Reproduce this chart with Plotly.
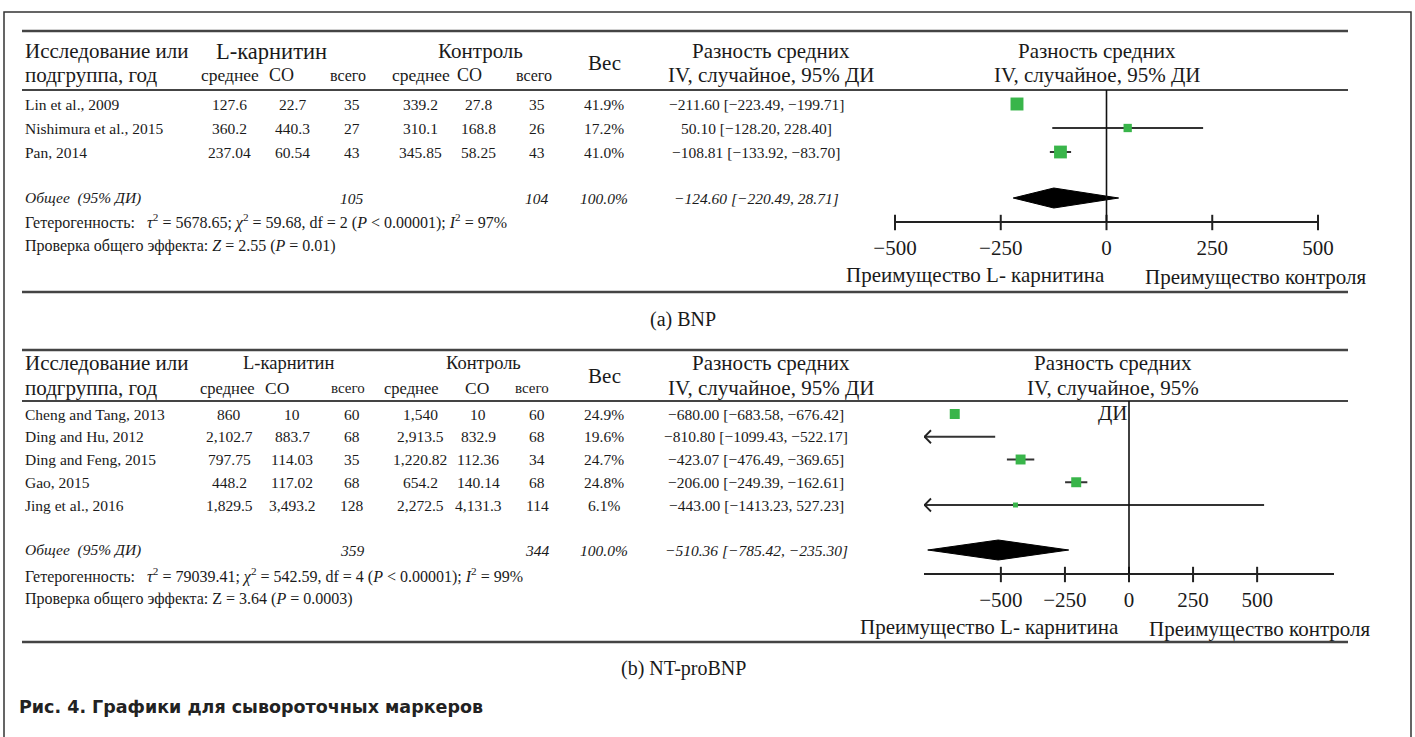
import math
import plotly.graph_objects as go

W, H = 1415, 737
SERIF = "Liberation Serif"
SANS = "DejaVu Sans"
INK = "#1a1a1a"
RULE = "#444444"
GREEN = "#39b54a"

# ---------------- (a) BNP ----------------
bnp_study = ["Lin et al., 2009", "Nishimura et al., 2015", "Pan, 2014"]
bnp_l_mean = [127.6, 360.2, 237.04]
bnp_l_sd = [22.7, 440.3, 60.54]
bnp_l_n = [35, 27, 43]
bnp_c_mean = [339.2, 310.1, 345.85]
bnp_c_sd = [27.8, 168.8, 58.25]
bnp_c_n = [35, 26, 43]
bnp_weight = [41.9, 17.2, 41.0]
bnp_md = [-211.60, 50.10, -108.81]
bnp_lo = [-223.49, -128.20, -133.92]
bnp_hi = [-199.71, 228.40, -83.70]
bnp_total = dict(l_n=105, c_n=104, weight=100.0, md=-124.60, lo=-220.49, hi=28.71)
bnp_het = ("Гетерогенность:\u00a0\u00a0 <i>τ</i><sup>2</sup> = 5678.65; <i>χ</i><sup>2</sup> = 59.68, df = 2 "
           "(<i>P</i> < 0.00001); <i>I</i><sup>2</sup> = 97%")
bnp_test = "Проверка общего эффекта: <i>Z</i> = 2.55 (<i>P</i> = 0.01)"

# ---------------- (b) NT-proBNP ----------------
nt_study = ["Cheng and Tang, 2013", "Ding and Hu, 2012", "Ding and Feng, 2015", "Gao, 2015", "Jing et al., 2016"]
nt_l_mean = [860, 2102.7, 797.75, 448.2, 1829.5]
nt_l_sd = [10, 883.7, 114.03, 117.02, 3493.2]
nt_l_n = [60, 68, 35, 68, 128]
nt_c_mean = [1540, 2913.5, 1220.82, 654.2, 2272.5]
nt_c_sd = [10, 832.9, 112.36, 140.14, 4131.3]
nt_c_n = [60, 68, 34, 68, 114]
nt_weight = [24.9, 19.6, 24.7, 24.8, 6.1]
nt_md = [-680.00, -810.80, -423.07, -206.00, -443.00]
nt_lo = [-683.58, -1099.43, -476.49, -249.39, -1413.23]
nt_hi = [-676.42, -522.17, -369.65, -162.61, 527.23]
nt_total = dict(l_n=359, c_n=344, weight=100.0, md=-510.36, lo=-785.42, hi=-235.30)
nt_het = ("Гетерогенность:\u00a0\u00a0 <i>τ</i><sup>2</sup> = 79039.41; <i>χ</i><sup>2</sup> = 542.59, df = 4 "
          "(<i>P</i> < 0.00001); <i>I</i><sup>2</sup> = 99%")
nt_test = "Проверка общего эффекта: Z = 3.64 (<i>P</i> = 0.0003)"

tick_vals = [-500, -250, 0, 250, 500]
tick_text = ["−500", "−250", "0", "250", "500"]

# column centres (px)
COL = dict(study=23, l_mean=229, l_sd=292, l_n=352, c_mean=420, c_sd=478, c_n=537, w=604, md=756)

HEAD = 21     # header / axis text size
ROW = 15.5    # table body size
NOTE = 16     # heterogeneity / overall-effect lines


def num(v):
    return f"{v:,}"


def dec(v):
    return f"{v:.2f}".replace("-", "−")


def ci_text(md, lo, hi):
    return f"{dec(md)} [{dec(lo)}, {dec(hi)}]"


fig = go.Figure()


def txt(s, x, y, size=ROW, anchor="center", family=SERIF, color=INK, italic=False, bold=False):
    fig.add_annotation(text=s, x=x / W, xref="paper", y=y, yref="y",
                       xanchor=anchor, yanchor="middle", showarrow=False,
                       font=dict(family=family, size=size, color=color,
                                 style="italic" if italic else "normal",
                                 weight="bold" if bold else "normal"))


def hrule(y, x0=22, x1=1348, width=2.5):
    fig.add_shape(type="line", xref="paper", yref="y", x0=x0 / W, x1=x1 / W, y0=y, y1=y,
                  line=dict(color=RULE, width=width))


def panel(P):
    ax = P["xaxis"]
    hrule(P["top"])
    hrule(P["head_rule"], width=2)
    hrule(P["bottom"])
    h1, h2 = P["head_y"]
    txt("Исследование или", COL["study"], h1, HEAD, "left")
    txt("подгруппа, год", COL["study"], h2, HEAD, "left")
    txt("L-карнитин", P["l_head"], h1, P["l_size"])
    txt("Контроль", P["c_head"], h1, P["grp_size"])
    for x, label, size in P["sub_heads"]:
        txt(label, x, h2, size)
    txt("Вес", COL["w"], (h1 + h2) / 2, HEAD)
    txt("Разность средних", 771, h1, HEAD)
    txt("IV, случайное, 95% ДИ", 771, h2, HEAD)
    for i, line in enumerate(P["forest_head"]):
        txt(line, P["forest_cx"], h1 + i * (h2 - h1), HEAD)

    # study rows
    d = P["data"]
    ys = [P["row0"] + P["step"] * i for i in range(len(d["study"]))]
    for i, y in enumerate(ys):
        txt(d["study"][i], COL["study"], y, ROW, "left")
        txt(num(d["l_mean"][i]), COL["l_mean"], y)
        txt(num(d["l_sd"][i]), COL["l_sd"], y)
        txt(num(d["l_n"][i]), COL["l_n"], y)
        txt(num(d["c_mean"][i]), COL["c_mean"], y)
        txt(num(d["c_sd"][i]), COL["c_sd"], y)
        txt(num(d["c_n"][i]), COL["c_n"], y)
        txt(f"{d['weight'][i]:.1f}%", COL["w"], y)
        txt(ci_text(d["md"][i], d["lo"][i], d["hi"][i]), COL["md"], y)

    # overall row
    t = P["total"]
    yo = P["overall_y"]
    txt("Общее\u00a0 (95% ДИ)", COL["study"], yo, ROW, "left", italic=True)
    txt(f"{t['l_n']}", COL["l_n"], yo, italic=True)
    txt(f"{t['c_n']}", COL["c_n"], yo, italic=True)
    txt(f"{t['weight']:.1f}%", COL["w"], yo, italic=True)
    txt(ci_text(t["md"], t["lo"], t["hi"]), COL["md"], yo, italic=True)
    txt(P["het"], COL["study"], P["het_y"], NOTE, "left")
    txt(P["test"], COL["study"], P["test_y"], NOTE, "left")
    txt(P["caption"], P["caption_x"], P["caption_y"], 20)

    # zero line
    fig.add_shape(type="line", xref=ax, yref="y", x0=0, x1=0,
                  y0=P["head_rule"], y1=P["axis_y"], line=dict(color="#111111", width=1.6))

    r0, r1 = P["range"]
    upp = (r1 - r0) / (P["dom"][1] - P["dom"][0])  # data units per pixel

    # tick marks crossing the axis line
    fig.add_trace(go.Scatter(x=tick_vals, y=[P["axis_y"] + 0.5] * len(tick_vals), xaxis=ax, yaxis="y",
                             mode="markers", cliponaxis=False,
                             marker=dict(symbol="line-ns", size=11, color="#222222",
                                         line=dict(color="#222222", width=2)),
                             hoverinfo="skip", showlegend=False))

    # confidence intervals
    cx, cy = [], []
    for i, y in enumerate(ys):
        cx += [d["lo"][i], d["hi"][i], None]
        cy += [y, y, None]
    fig.add_trace(go.Scatter(x=cx, y=cy, xaxis=ax, yaxis="y", mode="lines",
                             line=dict(color="#333333", width=2), hoverinfo="skip", showlegend=False))
    # arrow heads where an interval runs past the axis
    axx, axy = [], []
    for i, y in enumerate(ys):
        if d["lo"][i] < r0:
            axx += [r0 + 7 * upp, r0 + 0.6 * upp, r0 + 7 * upp, None]
            axy += [y - 6.5, y, y + 6.5, None]
    if axx:
        fig.add_trace(go.Scatter(x=axx, y=axy, xaxis=ax, yaxis="y", mode="lines",
                                 line=dict(color="#222222", width=1.8), hoverinfo="skip", showlegend=False))
    # study squares sized by weight
    fig.add_trace(go.Scatter(x=d["md"], y=ys, xaxis=ax, yaxis="y", mode="markers",
                             marker=dict(symbol="square", color=GREEN, opacity=1,
                                         size=[2 * math.sqrt(w) for w in d["weight"]], line=dict(width=0)),
                             hoverinfo="skip", showlegend=False))
    # pooled diamond
    hh = 10
    fig.add_trace(go.Scatter(x=[t["lo"], t["md"], t["hi"], t["md"], t["lo"]],
                             y=[yo, yo - hh, yo, yo + hh, yo], xaxis=ax, yaxis="y",
                             mode="lines", fill="toself", fillcolor="#000000",
                             line=dict(color="#000000", width=1), hoverinfo="skip", showlegend=False))

    for s, x, y in P["side_labels"]:
        txt(s, x, y, HEAD)


panels = [
    dict(xaxis="x", dom=(895, 1318), range=(-500, 500), axis_y=222,
         top=31, head_rule=90, bottom=292, head_y=(51, 75),
         l_head=271, c_head=480, grp_size=HEAD, l_size=22.5,
         sub_heads=[(230, "среднее", 17.5), (281, "CO", 18), (348, "всего", 16),
                    (421, "среднее", 17.5), (470, "CO", 18), (534, "всего", 16)],
         forest_cx=1097, forest_head=["Разность средних", "IV, случайное, 95% ДИ"],
         data=dict(study=bnp_study, l_mean=bnp_l_mean, l_sd=bnp_l_sd, l_n=bnp_l_n,
                   c_mean=bnp_c_mean, c_sd=bnp_c_sd, c_n=bnp_c_n, weight=bnp_weight,
                   md=bnp_md, lo=bnp_lo, hi=bnp_hi),
         row0=104, step=24, overall_y=198, total=bnp_total,
         het=bnp_het, het_y=221, test=bnp_test, test_y=246,
         caption="(a) BNP", caption_x=683, caption_y=319,
         side_labels=[("Преимущество L- карнитина", 975, 275), ("Преимущество контроля", 1256, 277)]),
    dict(xaxis="x2", dom=(924, 1334), range=(-800, 800), axis_y=574,
         top=350, head_rule=401, bottom=642, head_y=(363, 388),
         l_head=288, c_head=483, grp_size=18.5, l_size=18.5,
         sub_heads=[(227, "среднее", 16.5), (277, "CO", 17.5), (348, "всего", 15),
                    (411, "среднее", 16.5), (477, "CO", 17.5), (532, "всего", 15)],
         forest_cx=1113, forest_head=["Разность средних", "IV, случайное, 95%", "ДИ"],
         data=dict(study=nt_study, l_mean=nt_l_mean, l_sd=nt_l_sd, l_n=nt_l_n,
                   c_mean=nt_c_mean, c_sd=nt_c_sd, c_n=nt_c_n, weight=nt_weight,
                   md=nt_md, lo=nt_lo, hi=nt_hi),
         row0=414, step=22.75, overall_y=550, total=nt_total,
         het=nt_het, het_y=575, test=nt_test, test_y=599,
         caption="(b) NT-proBNP", caption_x=683, caption_y=668,
         side_labels=[("Преимущество L- карнитина", 989, 627), ("Преимущество контроля", 1260, 629)]),
]

layout_axes = {}
for P in panels:
    key = "xaxis" if P["xaxis"] == "x" else "xaxis" + P["xaxis"][1:]
    layout_axes[key] = dict(domain=[P["dom"][0] / W, P["dom"][1] / W], range=list(P["range"]),
                            anchor="free", position=1 - P["axis_y"] / H,
                            showline=True, linecolor="#222222", linewidth=2,
                            ticks="", tickvals=tick_vals, ticktext=tick_text, ticklabelstandoff=7,
                            tickfont=dict(family=SERIF, size=HEAD, color=INK),
                            showgrid=False, zeroline=False, fixedrange=True, automargin=False)
    panel(P)

# outer frame
fig.add_shape(type="rect", xref="paper", yref="y", x0=4 / W, x1=1411 / W, y0=12, y1=760,
              line=dict(color="#333333", width=1.5))

txt("Рис. 4. Графики для сывороточных маркеров", 17, 707, 17.5, "left",
    family=SANS, color="#222222", bold=True)

fig.update_layout(
    width=W, height=H, margin=dict(l=0, r=0, t=0, b=0, pad=0, autoexpand=False),
    paper_bgcolor="white", plot_bgcolor="rgba(0,0,0,0)", showlegend=False,
    yaxis=dict(domain=[0, 1], range=[H, 0], visible=False, fixedrange=True, automargin=False),
    **layout_axes,
)

fig.write_html("out.html", config=dict(displayModeBar=False))
